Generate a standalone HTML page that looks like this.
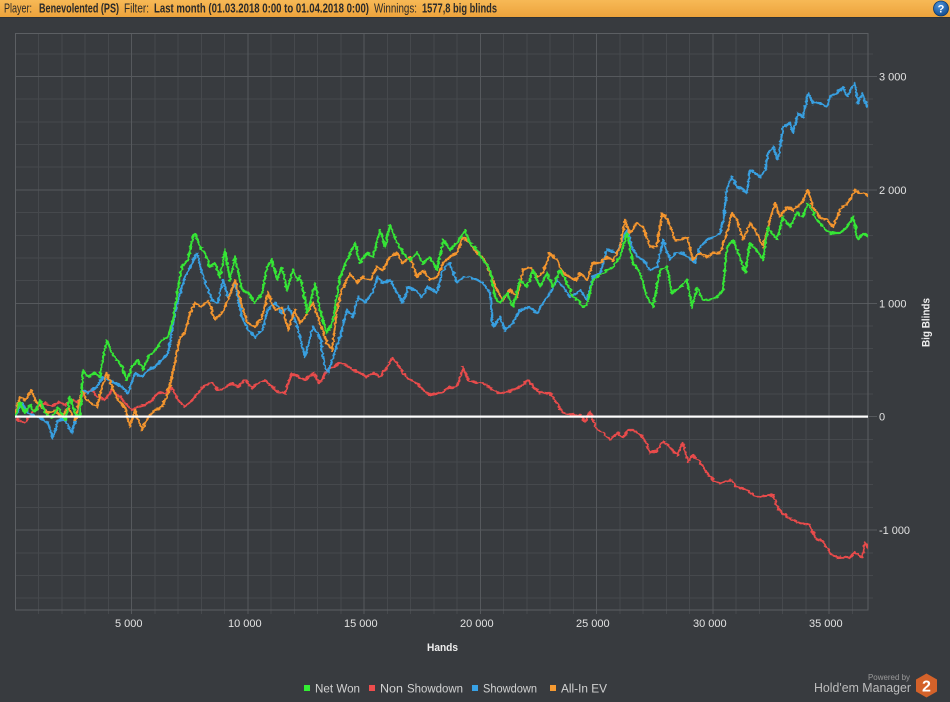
<!DOCTYPE html>
<html>
<head>
<meta charset="utf-8">
<style>
  html,body{margin:0;padding:0;background:#383b3f;}
  body{width:950px;height:702px;overflow:hidden;}
  svg{display:block;}
  text{font-family:"Liberation Sans","DejaVu Sans",sans-serif;}
</style>
</head>
<body>
<svg width="950" height="702" viewBox="0 0 950 702" xmlns="http://www.w3.org/2000/svg">
  <defs>
    <linearGradient id="hdr" x1="0" y1="0" x2="0" y2="1">
      <stop offset="0" stop-color="#f7b956"/>
      <stop offset="1" stop-color="#eda33c"/>
    </linearGradient>
    <radialGradient id="help" cx="0.4" cy="0.3" r="0.8">
      <stop offset="0" stop-color="#4d95dd"/>
      <stop offset="1" stop-color="#0d4486"/>
    </radialGradient>
    <clipPath id="plot"><rect x="15" y="33" width="853" height="577"/></clipPath>
    <filter id="jag" filterUnits="userSpaceOnUse" x="0" y="20" width="950" height="640">
      <feTurbulence type="fractalNoise" baseFrequency="0.2 0.35" numOctaves="2" seed="7" result="t"/>
      <feDisplacementMap in="SourceGraphic" in2="t" scale="4" xChannelSelector="R" yChannelSelector="G"/>
    </filter>
  </defs>

  <!-- background -->
  <rect x="0" y="0" width="950" height="702" fill="#383b3f"/>

  <!-- header -->
  <rect x="0" y="0" width="950" height="17" fill="url(#hdr)"/>
  <rect x="0" y="17" width="950" height="1" fill="#2f3235"/>
  <g font-size="12.5" fill="#2a2a2a">
    <text x="4" y="12.5" textLength="28" lengthAdjust="spacingAndGlyphs">Player:</text>
    <text x="39" y="12.5" font-weight="bold" textLength="80" lengthAdjust="spacingAndGlyphs">Benevolented (PS)</text>
    <text x="124" y="12.5" textLength="25" lengthAdjust="spacingAndGlyphs">Filter:</text>
    <text x="154" y="12.5" font-weight="bold" textLength="215" lengthAdjust="spacingAndGlyphs">Last month (01.03.2018 0:00 to 01.04.2018 0:00)</text>
    <text x="374" y="12.5" textLength="43" lengthAdjust="spacingAndGlyphs">Winnings:</text>
    <text x="422" y="12.5" font-weight="bold" textLength="75" lengthAdjust="spacingAndGlyphs">1577,8 big blinds</text>
  </g>
  <circle cx="941" cy="8.5" r="7.5" fill="url(#help)" stroke="#0b3b72" stroke-width="0.8"/>
  <text x="941" y="12.5" font-size="11" font-weight="bold" fill="#ffffff" text-anchor="middle">?</text>

  <!-- grid -->
  <g shape-rendering="crispEdges" fill="none">
    <path stroke="#46494d" stroke-width="1" d="
      M38.55 33V614 M61.8 33V614 M85.05 33V614 M108.3 33V614
      M154.8 33V614 M178.05 33V614 M201.3 33V614 M224.55 33V614
      M271.05 33V614 M294.3 33V614 M317.55 33V614 M340.8 33V614
      M387.3 33V614 M410.55 33V614 M433.8 33V614 M457.05 33V614
      M503.55 33V614 M526.8 33V614 M550.05 33V614 M573.3 33V614
      M619.8 33V614 M643.05 33V614 M666.3 33V614 M689.55 33V614
      M736.05 33V614 M759.3 33V614 M782.55 33V614 M805.8 33V614
      M852.3 33V614
      M15 53.8H873 M15 99.2H873 M15 121.9H873 M15 144.5H873 M15 167.2H873
      M15 212.6H873 M15 235.3H873 M15 257.9H873 M15 280.6H873
      M15 326H873 M15 348.7H873 M15 371.3H873 M15 394H873
      M15 439.4H873 M15 462.1H873 M15 484.7H873 M15 507.4H873
      M15 552.8H873 M15 575.5H873 M15 598.1H873"/>
    <path stroke="#56595d" stroke-width="1" d="
      M131.55 33V614 M247.8 33V614 M364.05 33V614 M480.3 33V614
      M596.55 33V614 M712.8 33V614 M829.05 33V614
      M15 76.5H877 M15 189.9H877 M15 303.3H877 M15 416.7H877 M15 530.1H877"/>
    <rect x="15.5" y="33.5" width="852.5" height="576.5" stroke="#5c5f63" stroke-width="1"/>
  </g>

  <!-- series -->
  <g clip-path="url(#plot)">
  <g filter="url(#jag)" fill="none" stroke-width="2.2" stroke-linejoin="round" stroke-linecap="round">
    <polyline stroke="#e84b4b" points="15,413 18,420 25,423 32,413 38,407 45,403 52,407 58,402 65,405 72,400 78,402 85,393 92,390 98,397 105,400 112,390 118,395 125,403 132,410 138,407 145,405 152,400 158,393 165,393 172,388 178,400 185,407 192,400 198,393 205,385 212,383 218,390 225,388 232,383 238,387 245,380 252,388 258,383 265,380 272,387 278,392 285,393 292,373 298,377 305,380 313,373 320,383 327,370 333,367 340,363 347,365 353,370 360,373 367,377 373,373 380,377 387,367 392,358 397,363 403,373 410,380 417,383 423,390 430,395 437,393 443,392 450,387 457,387 463,367 468,380 473,382 480,383 487,385 493,390 500,393 507,392 513,390 520,387 528,380 533,387 540,393 550,393 558,405 563,413 573,415 580,415 585,422 590,412 597,430 603,432 610,440 618,433 623,438 628,430 633,430 640,435 645,440 650,453 657,450 663,442 670,447 677,455 683,443 688,462 693,455 700,462 707,473 713,480 720,483 730,480 737,487 747,490 753,495 760,497 770,495 773,495 778,508 787,517 793,520 800,523 810,525 815,537 823,542 830,553 837,558 843,557 850,558 855,552 862,558 865,542 869,548"/>
    <polyline stroke="#389fe0" points="15,417 22,403 28,413 38,417 48,423 53,438 58,420 65,420 72,433 77,413 82,390 88,393 97,387 102,377 108,380 115,383 122,387 128,393 135,373 142,377 148,370 155,367 162,360 168,353 175,313 180,293 185,277 192,263 197,253 202,273 207,287 212,300 218,303 223,280 228,297 235,283 242,317 248,330 255,337 262,330 268,310 275,303 282,313 288,307 295,320 300,337 305,357 313,327 320,337 325,367 328,373 333,357 340,337 347,310 353,317 358,297 365,303 372,293 378,277 383,283 390,280 397,293 403,303 408,287 415,290 422,297 428,287 437,293 443,270 450,263 457,283 463,277 470,277 477,280 483,283 490,293 493,327 500,317 505,330 513,323 520,310 530,307 537,313 543,303 550,293 557,280 563,287 570,297 577,293 580,290 587,300 593,277 600,273 607,250 617,253 622,240 627,230 632,247 638,257 643,260 650,270 657,267 663,240 670,260 675,253 682,253 688,257 695,263 700,247 707,240 713,237 720,233 723,223 727,187 732,177 737,187 743,190 747,193 750,170 755,173 760,177 765,170 768,153 773,147 778,160 783,127 790,123 793,133 798,113 803,117 808,93 813,103 820,103 827,107 830,97 837,93 843,87 847,97 852,87 855,83 858,103 862,93 867,107 870,105"/>
    <polyline stroke="#f3952f" points="15,413 20,397 25,400 32,390 35,400 42,407 48,413 55,410 62,417 68,407 75,420 82,390 87,400 92,403 97,407 102,387 107,373 112,387 118,400 125,407 130,427 135,410 142,430 148,417 155,410 162,407 168,393 175,363 180,337 185,333 190,313 195,303 202,307 208,300 215,320 222,313 228,300 235,280 242,307 248,323 255,327 262,317 268,293 275,310 282,307 288,330 295,310 300,323 305,317 313,303 320,323 327,343 332,350 337,310 342,290 350,273 357,283 363,277 370,280 377,267 383,270 390,257 397,253 403,263 410,257 417,277 423,270 430,280 437,277 443,263 450,257 457,253 463,237 470,243 477,253 483,257 490,273 497,290 503,300 510,290 517,297 523,270 530,267 537,277 543,273 550,253 557,260 563,273 570,277 577,280 580,273 587,280 593,263 600,263 607,257 613,260 620,247 625,220 630,233 637,223 643,227 650,247 657,247 662,213 668,220 675,240 680,240 687,237 693,260 700,253 707,257 713,253 720,253 727,233 732,213 737,220 743,240 750,223 757,233 763,247 770,220 775,203 780,217 787,207 793,210 802,203 808,190 813,207 820,217 827,220 833,227 840,210 847,203 852,197 855,190 860,193 865,193 870,197"/>
    <polyline stroke="#36e636" points="15,417 20,402 25,413 30,405 35,412 40,400 45,412 52,418 58,407 65,420 70,397 75,413 80,417 83,370 88,377 95,373 100,377 103,357 107,340 112,353 117,360 122,367 127,380 132,367 138,360 143,370 148,357 155,350 162,340 168,337 173,320 178,287 182,267 188,260 192,240 195,233 200,247 205,253 210,267 215,263 220,277 225,250 230,280 235,257 242,290 248,293 255,303 262,293 267,267 272,260 277,280 282,267 287,290 293,270 298,280 300,277 305,300 307,313 312,297 315,283 320,310 327,333 333,320 340,277 347,260 355,243 360,263 367,253 373,257 380,230 385,247 390,225 397,243 403,253 410,260 417,253 423,263 430,257 437,270 443,240 450,250 457,243 465,230 470,243 477,250 483,260 490,270 495,297 500,303 507,293 513,307 520,280 527,287 533,270 540,287 547,273 553,287 560,270 567,283 573,297 578,300 583,307 587,305 593,280 603,273 613,267 620,257 627,233 633,263 640,273 647,297 653,307 660,270 667,267 672,293 680,287 687,280 692,307 697,287 703,300 710,300 717,297 723,290 727,247 733,240 740,257 745,273 750,243 757,250 763,260 768,227 777,240 783,217 790,227 797,213 803,217 808,203 817,220 823,227 830,233 840,233 847,227 853,217 858,240 863,233 870,238"/>
  </g>
  </g>

  <!-- zero line -->
  <rect x="15" y="415.5" width="853" height="2.2" fill="#ffffff"/>

  <!-- x tick labels -->
  <g font-size="11" fill="#e2e2e2">
    <text x="115" y="627">5 000</text>
    <text x="228" y="627">10 000</text>
    <text x="344" y="627">15 000</text>
    <text x="460" y="627">20 000</text>
    <text x="576" y="627">25 000</text>
    <text x="693" y="627">30 000</text>
    <text x="809" y="627">35 000</text>
  </g>
  <text x="442.5" y="651" font-size="11" font-weight="bold" fill="#eeeeee" text-anchor="middle" textLength="31" lengthAdjust="spacingAndGlyphs">Hands</text>

  <!-- y tick labels -->
  <g font-size="11" fill="#e2e2e2">
    <text x="879" y="80.5">3 000</text>
    <text x="879" y="194">2 000</text>
    <text x="879" y="307.3">1 000</text>
    <text x="879" y="420.7">0</text>
    <text x="879" y="534" textLength="31" lengthAdjust="spacingAndGlyphs">-1 000</text>
  </g>
  <text transform="translate(929.5,322.5) rotate(-90)" font-size="11" font-weight="bold" fill="#eeeeee" text-anchor="middle" textLength="49" lengthAdjust="spacingAndGlyphs">Big Blinds</text>

  <!-- legend -->
  <rect x="304" y="685" width="6" height="6" fill="#33ee33"/>
  <rect x="369" y="685" width="6" height="6" fill="#ee4d4d"/>
  <rect x="472" y="685" width="6" height="6" fill="#38a2e6"/>
  <rect x="550" y="685" width="6" height="6" fill="#f59a32"/>
  <g font-size="11.5" fill="#d2d2d2">
    <text x="315" y="692.3" textLength="45" lengthAdjust="spacingAndGlyphs">Net Won</text>
    <text x="380" y="692.3" textLength="23" lengthAdjust="spacingAndGlyphs">Non</text>
    <text x="407" y="692.3" textLength="56" lengthAdjust="spacingAndGlyphs">Showdown</text>
    <text x="483" y="692.3" textLength="54" lengthAdjust="spacingAndGlyphs">Showdown</text>
    <text x="561" y="692.3" textLength="46" lengthAdjust="spacingAndGlyphs">All-In EV</text>
  </g>

  <!-- logo -->
  <text x="868" y="680" font-size="8" fill="#9a9a9a" textLength="42" lengthAdjust="spacingAndGlyphs">Powered by</text>
  <text x="814" y="692" font-size="13" fill="#bdbdbd" textLength="97" lengthAdjust="spacingAndGlyphs">Hold'em Manager</text>
  <polygon points="926.5,673.5 937,679.5 937,691.5 926.5,697.5 916,691.5 916,679.5" fill="#d4622a"/>
  <text x="926.5" y="691.5" font-size="16" font-weight="bold" fill="#ffffff" text-anchor="middle">2</text>
</svg>
</body>
</html>
